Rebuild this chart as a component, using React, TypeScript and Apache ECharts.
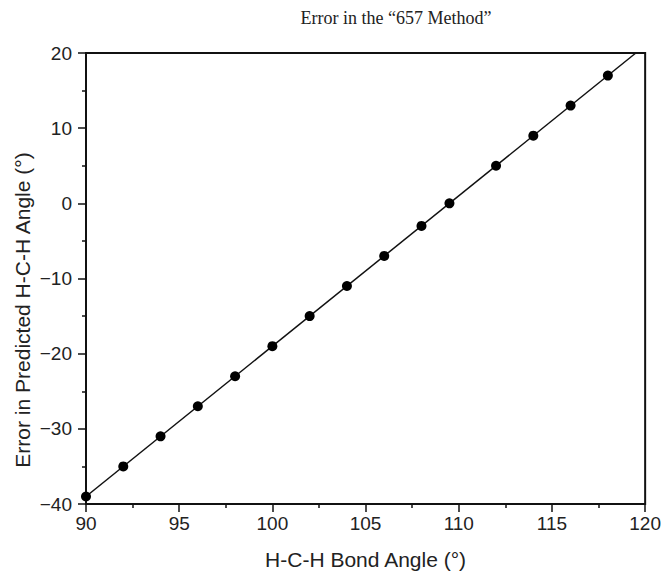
import React, { useEffect, useRef } from "react";
import * as echarts from "echarts";

const bondAngles = [90, 92, 94, 96, 98, 100, 102, 104, 106, 108, 109.5, 112, 114, 116, 118];
const errors = [-39, -35, -31, -27, -23, -19, -15, -11, -7, -3, 0, 5, 9, 13, 17];
const fitLine = [
  [90, -39],
  [119.5, 20],
];
const titleText = "Error in the \u201c657 Method\u201d";
const xName = "H-C-H Bond Angle (\u00b0)";
const yName = "Error in Predicted H-C-H Angle (\u00b0)";

export default function App() {
  const ref = useRef<HTMLDivElement>(null);
  useEffect(() => {
    if (!ref.current) return;
    const chart = echarts.init(ref.current, undefined, { renderer: "svg" });
    const fmt = (v: number) => (v < 0 ? "\u2212" + Math.abs(v) : String(v));
    chart.setOption({
      animation: false,
      backgroundColor: "#ffffff",
      title: {
        text: titleText,
        left: 391,
        top: 4,
        textAlign: "center",
        textStyle: { fontFamily: "Liberation Serif", fontSize: 18, fontWeight: "normal", color: "#222" },
      },
      graphic: [
        {
          type: "text",
          x: 22,
          y: 310,
          rotation: Math.PI / 2,
          style: {
            text: yName,
            align: "center",
            verticalAlign: "middle",
            fontFamily: "Liberation Sans",
            fontSize: 21,
            fill: "#222",
          },
        },
      ],
      grid: {
        left: 86,
        right: 17,
        top: 53,
        bottom: 66,
        show: true,
        borderColor: "#111",
        borderWidth: 2,
        backgroundColor: "transparent",
      },
      xAxis: {
        type: "value",
        min: 90,
        max: 120,
        interval: 5,
        name: xName,
        nameLocation: "middle",
        nameGap: 45,
        nameTextStyle: { fontFamily: "Liberation Sans", fontSize: 21, color: "#222" },
        axisLine: { show: true, onZero: false, lineStyle: { color: "#111", width: 2 } },
        axisTick: { show: true, inside: false, length: 8, lineStyle: { color: "#111", width: 1.5 } },
        minorTick: { show: true, splitNumber: 2, length: 4, lineStyle: { color: "#111", width: 1.5 } },
        splitLine: { show: false },
        axisLabel: { fontFamily: "Liberation Sans", fontSize: 19, color: "#222", margin: 10, formatter: fmt },
      },
      yAxis: {
        type: "value",
        min: -40,
        max: 20,
        interval: 10,
        axisLine: { show: true, onZero: false, lineStyle: { color: "#111", width: 2 } },
        axisTick: { show: true, inside: false, length: 8, lineStyle: { color: "#111", width: 1.5 } },
        minorTick: { show: true, splitNumber: 2, length: 4, lineStyle: { color: "#111", width: 1.5 } },
        splitLine: { show: false },
        axisLabel: { fontFamily: "Liberation Sans", fontSize: 19, color: "#222", margin: 14, formatter: fmt },
      },
      series: [
        {
          type: "line",
          data: fitLine,
          symbol: "none",
          lineStyle: { color: "#111", width: 1.5 },
          silent: true,
          z: 2,
        },
        {
          type: "scatter",
          data: bondAngles.map((x, i) => [x, errors[i]]),
          symbol: "circle",
          symbolSize: 10,
          itemStyle: { color: "#000", opacity: 1 },
          z: 3,
        },
      ],
    });
    return () => chart.dispose();
  }, []);
  return (
    <div
      ref={ref}
      style={{ position: "fixed", left: 0, top: 0, width: 664, height: 575, background: "#fff" }}
    />
  );
}
